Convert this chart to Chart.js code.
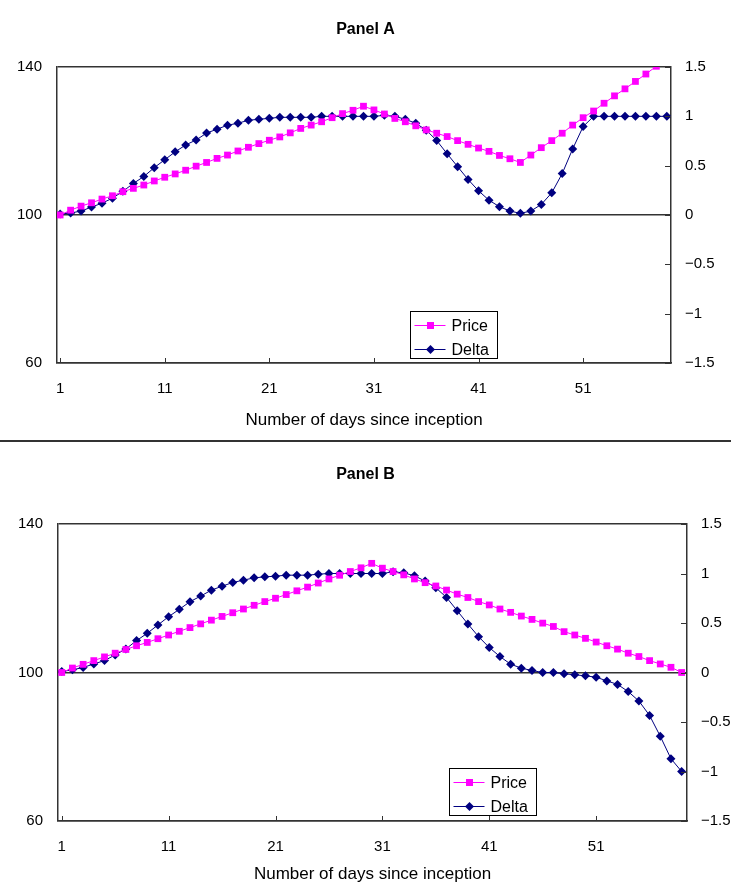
<!DOCTYPE html>
<html>
<head>
<meta charset="utf-8">
<script src="https://cdn.jsdelivr.net/npm/chart.js@4.4.1/dist/chart.umd.min.js"></script>
<style>
  body { margin: 0; background: #fff; }
  canvas { display: block; }
  .sep { height: 2px; background: #333; }
</style>
</head>
<body>
<canvas id="panelA" width="731" height="440"></canvas>
<div class="sep"></div>
<canvas id="panelB" width="731" height="446"></canvas>
<script>
  // days since inception (x axis)
  var days = [1, 2, 3, 4, 5, 6, 7, 8, 9, 10, 11, 12, 13, 14, 15, 16, 17, 18, 19, 20,
              21, 22, 23, 24, 25, 26, 27, 28, 29, 30, 31, 32, 33, 34, 35, 36, 37, 38, 39, 40,
              41, 42, 43, 44, 45, 46, 47, 48, 49, 50, 51, 52, 53, 54, 55, 56, 57, 58, 59];
  var xTicks = [1, 11, 21, 31, 41, 51];
  var priceTicks = [60, 100, 140];
  var deltaTicks = [-1.5, -1, -0.5, 0, 0.5, 1, 1.5];

  // Panel A
  var priceA = [100.0, 101.3, 102.4, 103.3, 104.3, 105.2, 106.3, 107.2, 108.1, 109.2,
                110.2, 111.1, 112.1, 113.2, 114.2, 115.3, 116.2, 117.3, 118.3, 119.3,
                120.2, 121.1, 122.2, 123.4, 124.3, 125.2, 126.3, 127.4, 128.3, 129.4,
                128.4, 127.3, 126.1, 125.2, 124.1, 123.0, 122.1, 121.2, 120.1, 119.1,
                118.1, 117.2, 116.1, 115.2, 114.2, 116.2, 118.2, 120.1, 122.1, 124.3,
                126.3, 128.1, 130.2, 132.2, 134.1, 136.1, 138.1, 140.2, 142.1];
  var deltaA = [0.01, 0.02, 0.04, 0.08, 0.12, 0.17, 0.24, 0.32, 0.39, 0.48,
                0.56, 0.64, 0.71, 0.76, 0.83, 0.87, 0.91, 0.93, 0.96, 0.97,
                0.98, 0.99, 0.99, 0.99, 0.99, 1.0, 1.0, 1.0, 1.0, 1.0,
                1.0, 1.01, 1.0, 0.97, 0.93, 0.86, 0.755, 0.62, 0.49, 0.36,
                0.245, 0.15, 0.084, 0.04, 0.017, 0.04, 0.107, 0.225, 0.42, 0.67,
                0.896, 1.0, 1.0, 1.0, 1.0, 1.0, 1.0, 1.0, 1.0];

  // Panel B
  var priceB = [100.0, 101.2, 102.2, 103.2, 104.2, 105.2, 106.2, 107.2, 108.1, 109.1,
                110.1, 111.1, 112.1, 113.1, 114.1, 115.1, 116.1, 117.1, 118.1, 119.1,
                120.0, 121.0, 122.0, 123.0, 124.1, 125.2, 126.2, 127.2, 128.2, 129.4,
                128.1, 127.2, 126.3, 125.2, 124.2, 123.3, 122.2, 121.1, 120.2, 119.1,
                118.2, 117.1, 116.2, 115.2, 114.3, 113.3, 112.4, 111.0, 110.1, 109.2,
                108.2, 107.2, 106.3, 105.2, 104.3, 103.2, 102.3, 101.4, 100.0];
  var deltaB = [0.01, 0.027, 0.05, 0.087, 0.12, 0.178, 0.238, 0.322, 0.396, 0.48,
                0.564, 0.638, 0.715, 0.772, 0.832, 0.872, 0.909, 0.933, 0.956, 0.966,
                0.973, 0.983, 0.983, 0.983, 0.993, 1.0, 1.0, 1.0, 1.0, 1.0,
                1.0, 1.017, 1.007, 0.977, 0.923, 0.856, 0.758, 0.624, 0.49, 0.362,
                0.252, 0.161, 0.084, 0.044, 0.02, 0.0, 0.0, -0.013, -0.023, -0.034,
                -0.047, -0.085, -0.12, -0.193, -0.288, -0.434, -0.644, -0.871, -1.0];

  var axisColor = '#333';
  Chart.defaults.font.family = '"Liberation Sans", Arial, sans-serif';
  Chart.defaults.color = '#000';

  // small tick marks pointing into the plot (bottom and right axes)
  var innerTicks = {
    id: 'innerTicks',
    afterDatasetsDraw: function(chart) {
      var ctx = chart.ctx, area = chart.chartArea;
      var x = chart.scales.x, y1 = chart.scales.y1;
      ctx.save();
      ctx.strokeStyle = axisColor;
      ctx.lineWidth = 1;
      ctx.beginPath();
      x.ticks.forEach(function(t) {
        var px = Math.round(x.getPixelForValue(t.value)) + 0.5;
        ctx.moveTo(px, area.bottom);
        ctx.lineTo(px, area.bottom - 5);
      });
      y1.ticks.forEach(function(t) {
        var py = Math.round(y1.getPixelForValue(t.value)) + 0.5;
        ctx.moveTo(area.right, py);
        ctx.lineTo(area.right - 6, py);
      });
      ctx.stroke();
      ctx.restore();
    }
  };

  // boxed legend sitting inside the plot
  var boxLegend = {
    id: 'boxLegend',
    afterDraw: function(chart, args, opts) {
      var ctx = chart.ctx, area = chart.chartArea;
      var w = 87, h = 47;
      var left = Math.round(area.left + opts.left * (area.right - area.left)) + 0.5;
      var top = Math.round(area.bottom - opts.gap - h) + 0.5;
      ctx.save();
      ctx.fillStyle = '#fff';
      ctx.fillRect(left, top, w, h);
      ctx.strokeStyle = '#000';
      ctx.lineWidth = 1;
      ctx.strokeRect(left, top, w, h);
      ctx.font = '16px "Liberation Sans", Arial, sans-serif';
      ctx.textBaseline = 'middle';
      chart.data.datasets.forEach(function(ds, i) {
        var cy = Math.round(top + 13 + i * 24) + 0.5;
        ctx.strokeStyle = ds.borderColor;
        ctx.beginPath();
        ctx.moveTo(left + 4, cy);
        ctx.lineTo(left + 35, cy);
        ctx.stroke();
        ctx.fillStyle = ds.pointBackgroundColor;
        var cx = left + 20;
        if (ds.pointStyle === 'rect') {
          ctx.fillRect(cx - 3.5, cy - 3.5, 7, 7);
        } else {
          ctx.beginPath();
          ctx.moveTo(cx - 4.5, cy);
          ctx.lineTo(cx, cy - 4.5);
          ctx.lineTo(cx + 4.5, cy);
          ctx.lineTo(cx, cy + 4.5);
          ctx.closePath();
          ctx.fill();
        }
        ctx.fillStyle = '#000';
        ctx.fillText(ds.label, left + 41, cy + 1);
      });
      ctx.restore();
    }
  };

  function makePanel(id, title, price, delta, p) {
    var Cnvs = document.getElementById(id).getContext('2d');
    return new Chart(Cnvs, {
      type: 'line',
      data: {
        labels: days,
        datasets: [{
          label: 'Price',
          data: price,
          yAxisID: 'y',
          borderColor: '#ff00ff',
          backgroundColor: '#ff00ff',
          pointBackgroundColor: '#ff00ff',
          pointBorderColor: '#ff00ff',
          pointStyle: 'rect',
          pointRadius: 4.8,
          pointBorderWidth: 0,
          borderWidth: 1,
          tension: 0
        }, {
          label: 'Delta',
          data: delta,
          yAxisID: 'y1',
          borderColor: '#000080',
          backgroundColor: '#000080',
          pointBackgroundColor: '#000080',
          pointBorderColor: '#000080',
          pointStyle: 'rectRot',
          pointRadius: 4.5,
          pointBorderWidth: 0,
          borderWidth: 1,
          tension: 0
        }]
      },
      options: {
        responsive: false,
        animation: false,
        layout: { padding: 0 },
        plugins: {
          legend: { display: false },
          tooltip: { enabled: false },
          title: {
            display: true,
            text: title,
            font: { size: 16, weight: 'bold' },
            padding: { top: p.titleTop, bottom: p.titleBottom }
          },
          boxLegend: { left: p.legendLeft, gap: p.legendGap }
        },
        scales: {
          x: {
            type: 'linear',
            min: p.xMin,
            max: p.xMax,
            afterBuildTicks: function(s) { s.ticks = xTicks.map(function(v) { return { value: v }; }); },
            afterFit: function(s) { s.height = p.xHeight; },
            grid: { drawOnChartArea: false, drawTicks: false },
            border: { display: true, color: axisColor, width: 1.5 },
            ticks: { font: { size: 15 }, padding: 17, maxRotation: 0, autoSkip: false },
            title: {
              display: true,
              text: 'Number of days since inception',
              font: { size: 17 },
              padding: { top: 0, bottom: p.xTitleBottom }
            }
          },
          y: {
            position: 'left',
            min: 60,
            max: 140,
            afterBuildTicks: function(s) { s.ticks = priceTicks.map(function(v) { return { value: v }; }); },
            afterFit: function(s) { s.width = p.leftWidth; },
            grid: { color: axisColor, lineWidth: 1.5, drawTicks: false },
            border: { display: true, color: axisColor, width: 1.5 },
            ticks: { font: { size: 15 }, padding: 15 }
          },
          y1: {
            position: 'right',
            min: -1.5,
            max: 1.5,
            afterBuildTicks: function(s) { s.ticks = deltaTicks.map(function(v) { return { value: v }; }); },
            afterFit: function(s) { s.width = p.rightWidth; },
            grid: { drawOnChartArea: false, drawTicks: false },
            border: { display: true, color: axisColor, width: 1.5 },
            ticks: {
              font: { size: 15 },
              padding: 14,
              callback: function(v) { return v < 0 ? '\u2212' + Math.abs(v) : String(v); }
            }
          }
        }
      },
      plugins: [innerTicks, boxLegend]
    });
  }

  makePanel('panelA', 'Panel A', priceA, deltaA, {
    leftWidth: 57, rightWidth: 60, xHeight: 77,
    titleTop: 20.4, titleBottom: 27.4, xTitleBottom: 9.8,
    xMin: 0.7, xMax: 59.4, legendLeft: 0.575, legendGap: 5
  });

  makePanel('panelB', 'Panel B', priceB, deltaB, {
    leftWidth: 58, rightWidth: 44, xHeight: 67,
    titleTop: 23.4, titleBottom: 39.4, xTitleBottom: 3.8,
    xMin: 0.65, xMax: 59.5, legendLeft: 0.622, legendGap: 6
  });
</script>
</body>
</html>
